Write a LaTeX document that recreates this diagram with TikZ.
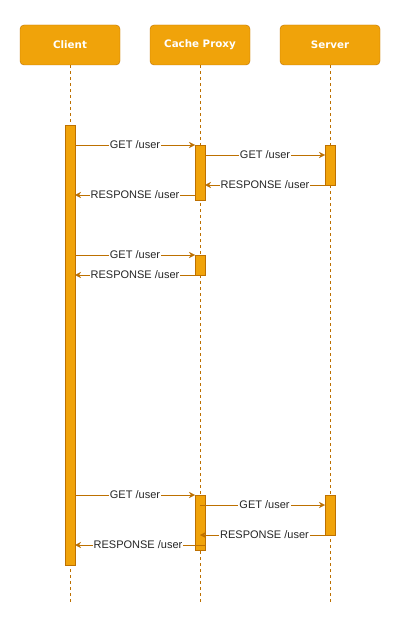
\documentclass[tikz,border=0pt]{standalone}
\usepackage{fontspec}
\setmainfont{Liberation Sans}
\newfontfamily\headfont{DejaVu Sans}
\usetikzlibrary{arrows.meta}

\definecolor{boxfill}{HTML}{F0A30A}
\definecolor{boxline}{HTML}{BD7000}

\tikzset{
  head/.style={draw=boxline,fill=boxfill,rounded corners=4pt,
    minimum width=100pt,minimum height=40pt,text=white,
    font=\headfont\bfseries\fontsize{10.3}{12}\selectfont},
  life/.style={draw=boxline,dash pattern=on 3pt off 3pt},
  bar/.style={draw=boxline,fill=boxfill,minimum width=10pt,
    inner sep=0pt,anchor=north},
  msg/.style={draw=boxline,->},
  lbl/.style={fill=white,inner sep=1pt,text=black!85,
    font=\fontsize{11}{13}\selectfont}
}

\begin{document}
\begin{tikzpicture}[x=1pt,y=-1pt,>={Stealth[length=6pt,width=6pt,inset=2pt]}]
\useasboundingbox (0,0) rectangle (401,631);

% ============================================================
% 1. PARTICIPANTS AND LIFELINES
% ============================================================

\node[head] (client) at (70,45) {Client};
\node[head] (proxy)  at (200,45) {Cache Proxy};
\node[head] (server) at (330,45) {Server};

\foreach \p in {client,proxy,server}{
  \draw[life] (\p.south) -- ++(0,538);
}

% ============================================================
% 2. ACTIVATION BARS
% ============================================================

\node[bar,minimum height=440pt] (cbar)  at (70,125) {};
\node[bar,minimum height=55pt]  (pbar1) at (200,145) {};
\node[bar,minimum height=40pt]  (sbar1) at (330,145) {};
\node[bar,minimum height=20pt]  (pbar2) at (200,255) {};
\node[bar,minimum height=55pt]  (pbar3) at (200,495) {};
\node[bar,minimum height=40pt]  (sbar3) at (330,495) {};

% ============================================================
% 3. MESSAGES
% ============================================================

% first request (miss)
\coordinate (A1) at (75,145);
\coordinate (B1) at (195,145);
\coordinate (A2) at (205,155);
\coordinate (B2) at (325,155);
\coordinate (A3) at (325,185);
\coordinate (B3) at (205,185);
\coordinate (A4) at (195,195);
\coordinate (B4) at (75,195);

\draw[msg] (A1) -- node[lbl] {GET /user} (B1);
\draw[msg] (A2) -- node[lbl] {GET /user} (B2);
\draw[msg] (A3) -- node[lbl] {RESPONSE /user} (B3);
\draw[msg] (A4) -- node[lbl] {RESPONSE /user} (B4);

% second request (hit)
\coordinate (C1) at (75,255);
\coordinate (D1) at (195,255);
\coordinate (C2) at (195,275);
\coordinate (D2) at (75,275);

\draw[msg] (C1) -- node[lbl] {GET /user} (D1);
\draw[msg] (C2) -- node[lbl] {RESPONSE /user} (D2);

% third request (expired)
\coordinate (E1) at (75,495);
\coordinate (F1) at (195,495);
\coordinate (E2) at (200,505);
\coordinate (F2) at (325,505);
\coordinate (E3) at (325,535);
\coordinate (F3) at (200,535);
\coordinate (E4) at (205,545);
\coordinate (F4) at (75,545);

\draw[msg] (E1) -- node[lbl] {GET /user} (F1);
\draw[msg] (E2) -- node[lbl,xshift=2pt] {GET /user} (F2);
\draw[msg] (E3) -- node[lbl,xshift=2pt] {RESPONSE /user} (F3);
\draw[msg] (E4) -- node[lbl,xshift=-2pt] {RESPONSE /user} (F4);

\end{tikzpicture}
\end{document}
